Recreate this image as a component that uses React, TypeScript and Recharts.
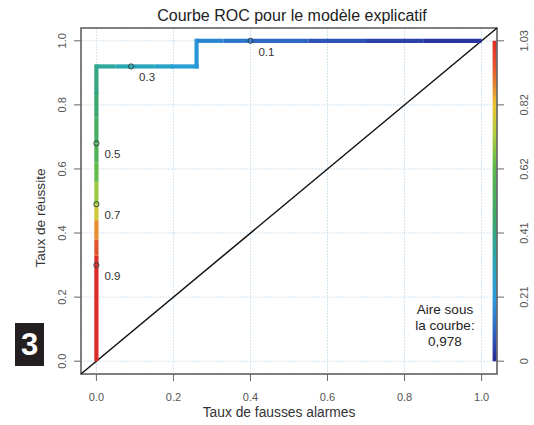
import React from 'react';
import {
  ComposedChart,
  Line,
  XAxis,
  YAxis,
  CartesianGrid,
  ReferenceLine,
  ReferenceDot,
  ReferenceArea,
  Customized,
} from 'recharts';

// ---- text ----
const chartTitle = 'Courbe ROC pour le modèle explicatif';
const xAxisTitle = 'Taux de fausses alarmes';
const yAxisTitle = 'Taux de réussite';
const aucLines = ['Aire sous', 'la courbe:', '0,978'];
const badgeText = '3';

// ---- ROC curve (false alarm rate, hit rate, cutoff at that point) ----
const rocFpr = [0, 0, 0, 0, 0, 0, 0, 0, 0, 0, 0, 0.05, 0.09, 0.15, 0.2, 0.26, 0.26, 0.33, 0.4, 0.55, 0.7, 0.85, 1.0];
const rocTpr = [0, 0.33, 0.38, 0.44, 0.49, 0.56, 0.62, 0.68, 0.76, 0.84, 0.92, 0.92, 0.92, 0.92, 0.92, 0.92, 1.0, 1.0, 1.0, 1.0, 1.0, 1.0, 1.0];
const rocCutoff = [1.03, 0.95, 0.88, 0.78, 0.7, 0.63, 0.56, 0.5, 0.45, 0.41, 0.37, 0.33, 0.3, 0.26, 0.22, 0.19, 0.16, 0.13, 0.1, 0.07, 0.04, 0.02, 0.0];

// ---- printed cutoffs ----
const markerLabels = ['0.1', '0.3', '0.5', '0.7', '0.9'];
const markerFpr = [0.4, 0.09, 0, 0, 0];
const markerTpr = [1.0, 0.92, 0.68, 0.49, 0.3];

// ---- axes ----
const axisTicks = [0, 0.2, 0.4, 0.6, 0.8, 1.0];
const axisTickLabels = ['0.0', '0.2', '0.4', '0.6', '0.8', '1.0'];
const cutoffTickLabels = ['0', '0.21', '0.41', '0.62', '0.82', '1.03'];
const cutoffMax = 1.03;
const axisDomain: [number, number] = [-0.04, 1.04];

// ---- styles ----
const FONT = '"Liberation Sans", Arial, Helvetica, sans-serif';
const palette: { f: number; c: number[] }[] = [
  { f: 0.0, c: [220, 44, 40] },
  { f: 0.1, c: [228, 96, 44] },
  { f: 0.2, c: [236, 196, 52] },
  { f: 0.3, c: [170, 206, 64] },
  { f: 0.4, c: [90, 184, 76] },
  { f: 0.55, c: [62, 168, 104] },
  { f: 0.68, c: [40, 166, 176] },
  { f: 0.8, c: [40, 158, 220] },
  { f: 0.9, c: [46, 104, 196] },
  { f: 1.0, c: [40, 40, 150] },
];

function colorAt(frac: number): string {
  const f = Math.max(0, Math.min(1, frac));
  for (let i = 0; i < palette.length - 1; i++) {
    const a = palette[i];
    const b = palette[i + 1];
    if (f >= a.f && f <= b.f) {
      const t = (f - a.f) / (b.f - a.f);
      const c = a.c.map((v, k) => Math.round(v + (b.c[k] - v) * t));
      return `rgb(${c[0]},${c[1]},${c[2]})`;
    }
  }
  const l = palette[palette.length - 1].c;
  return `rgb(${l[0]},${l[1]},${l[2]})`;
}

const isVertical = (i: number) => rocFpr[i] === rocFpr[i + 1];

const segments = rocFpr.slice(0, -1).map((_, i) => {
  const last = i === rocFpr.length - 2;
  const turnsAfter = !last && isVertical(i) !== isVertical(i + 1);
  return {
    data: [
      { x: rocFpr[i], y: rocTpr[i] },
      { x: rocFpr[i + 1], y: rocTpr[i + 1] },
    ],
    color: colorAt(1 - rocCutoff[i] / cutoffMax),
    cap: turnsAfter ? 'square' : 'butt',
  };
});

const labelOf = (v: number, labels: string[]) => {
  const i = axisTicks.findIndex((t) => Math.abs(t - v) < 1e-9);
  return i >= 0 ? labels[i] : '';
};

const XTick = (props: any) => {
  const { x, y, payload } = props;
  return (
    <text x={x} y={y + 18} textAnchor="middle" fontSize={11} fill="#555" fontFamily={FONT}>
      {labelOf(payload.value, axisTickLabels)}
    </text>
  );
};

const LeftTick = (props: any) => {
  const { x, y, payload } = props;
  const bx = x - 5.5;
  return (
    <text x={bx} y={y} transform={`rotate(-90 ${bx} ${y})`} textAnchor="middle" fontSize={11} fill="#555" fontFamily={FONT}>
      {labelOf(payload.value, axisTickLabels)}
    </text>
  );
};

const RightTick = (props: any) => {
  const { x, y, payload } = props;
  const bx = x + 22.5;
  return (
    <text x={bx} y={y} transform={`rotate(-90 ${bx} ${y})`} textAnchor="middle" fontSize={11} fill="#555" fontFamily={FONT}>
      {labelOf(payload.value, cutoffTickLabels)}
    </text>
  );
};

const Titles = () => (
  <g fontFamily={FONT}>
    <text x={292} y={21} textAnchor="middle" fontSize={16} fill="#222">
      {chartTitle}
    </text>
    <text x={279} y={417} textAnchor="middle" fontSize={13.8} fill="#333">
      {xAxisTitle}
    </text>
    <text x={45} y={218} transform="rotate(-90 45 218)" textAnchor="middle" fontSize={13.6} fill="#333">
      {yAxisTitle}
    </text>
  </g>
);

const markerShape = (label: string) => (props: any) => {
  const { cx, cy } = props;
  return (
    <g>
      <circle cx={cx} cy={cy} r={2.6} fill="none" stroke="#2f4545" strokeWidth={1} />
      <text x={cx + 8} y={cy + 15} fontSize={11.5} fill="#333" fontFamily={FONT}>
        {label}
      </text>
    </g>
  );
};

const aucShape = (props: any) => {
  const { cx, cy } = props;
  return (
    <g fontFamily={FONT} fontSize={13.5} fill="#222">
      {aucLines.map((t, i) => (
        <text key={i} x={cx} y={cy + (i - 1) * 16} textAnchor="middle">
          {t}
        </text>
      ))}
    </g>
  );
};

export default function App() {
  return (
    <div style={{ position: 'absolute', left: 0, top: 0, width: 534, height: 425, background: '#fff' }}>
      <ComposedChart width={534} height={425} margin={{ top: 28, right: 0, bottom: 0, left: 0 }}>
        <defs>
          <linearGradient id="cutoffBar" x1="0" y1="0" x2="0" y2="1">
            {palette.map((s, i) => (
              <stop key={i} offset={s.f} stopColor={`rgb(${s.c[0]},${s.c[1]},${s.c[2]})`} />
            ))}
          </linearGradient>
        </defs>
        <CartesianGrid stroke="#d3e4f1" strokeDasharray="2 1" />
        <XAxis
          type="number"
          dataKey="x"
          domain={axisDomain}
          ticks={axisTicks}
          allowDataOverflow
          height={51}
          tickSize={7}
          axisLine={false}
          tickLine={{ stroke: '#666' }}
          tick={<XTick />}
        />
        <YAxis
          type="number"
          dataKey="y"
          domain={axisDomain}
          ticks={axisTicks}
          allowDataOverflow
          width={81}
          tickSize={7}
          axisLine={false}
          tickLine={{ stroke: '#666' }}
          tick={<LeftTick />}
        />
        <YAxis
          yAxisId="cut"
          orientation="right"
          type="number"
          domain={axisDomain}
          ticks={axisTicks}
          allowDataOverflow
          width={37}
          tickSize={7}
          axisLine={false}
          tickLine={{ stroke: '#666' }}
          tick={<RightTick />}
        />
        <ReferenceLine
          segment={[
            { x: axisDomain[0], y: axisDomain[0] },
            { x: axisDomain[1], y: axisDomain[1] },
          ]}
          stroke="#111"
          strokeWidth={1.5}
          ifOverflow="visible"
        />
        {segments.map((s, i) => (
          <Line
            key={i}
            data={s.data}
            dataKey="y"
            type="linear"
            stroke={s.color}
            strokeWidth={4.2}
            strokeLinecap={s.cap as any}
            dot={false}
            activeDot={false}
            isAnimationActive={false}
          />
        ))}
        <ReferenceArea
          x1={1.0286}
          x2={1.039}
          y1={0}
          y2={1}
          fill="url(#cutoffBar)"
          fillOpacity={1}
          stroke="none"
        />
        <ReferenceArea
          x1={axisDomain[0]}
          x2={axisDomain[1]}
          y1={axisDomain[0]}
          y2={axisDomain[1]}
          fill="none"
          fillOpacity={0}
          stroke="#5a5a5a"
          strokeWidth={1.5}
          ifOverflow="visible"
        />
        {markerLabels.map((l, i) => (
          <ReferenceDot key={l} x={markerFpr[i]} y={markerTpr[i]} r={2.6} shape={markerShape(l)} ifOverflow="visible" />
        ))}
        <ReferenceDot x={0.905} y={0.097} r={1} shape={aucShape} ifOverflow="visible" />
        <Customized component={Titles} />
      </ComposedChart>
      <div
        style={{
          position: 'absolute',
          left: 15,
          top: 323,
          width: 29,
          height: 43,
          background: '#231f20',
          color: '#fff',
          fontFamily: FONT,
          fontWeight: 'bold',
          fontSize: 31,
          lineHeight: '43px',
          textAlign: 'center',
        }}
      >
        {badgeText}
      </div>
    </div>
  );
}
